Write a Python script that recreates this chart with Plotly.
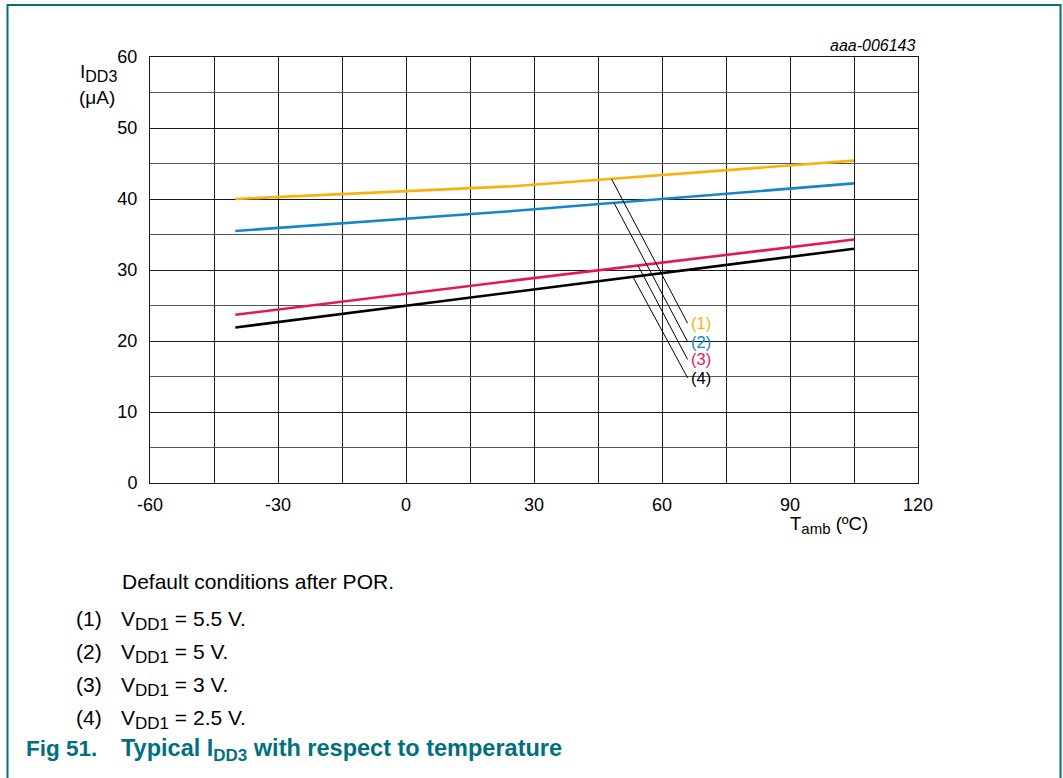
import plotly.graph_objects as go

# ---- data ----
temps = [-40, 25, 105]
idd_55v = [40.0, 41.8, 45.4]
idd_5v = [35.5, 38.3, 42.2]
idd_3v = [23.7, 28.5, 34.3]
idd_25v = [21.9, 26.9, 33.0]

series_names = ["(1)", "(2)", "(3)", "(4)"]
series_values = [idd_55v, idd_5v, idd_3v, idd_25v]
series_colors = ["#F9B10B", "#1387C9", "#E4175B", "#000000"]

# leader lines: (start x, start y, end x, end y) in data units
leaders = [
    (48.2, 42.8, 66.0, 22.5),
    (48.8, 39.4, 66.0, 19.9),
    (54.4, 30.6, 66.0, 17.4),
    (53.3, 28.9, 66.0, 14.8),
]

x_ticks = [-60, -30, 0, 30, 60, 90, 120]
x_tick_text = ["-60", "-30", "0", "30", "60", "90", "120"]
y_ticks = [0, 10, 20, 30, 40, 50, 60]

def sub(s, size=13):
    return f"<sub><span style=\"font-size:{size}px\">{s}</span></sub>"

notes = [
    ("(1)", "V" + sub("DD1", 17) + " = 5.5 V."),
    ("(2)", "V" + sub("DD1", 17) + " = 5 V."),
    ("(3)", "V" + sub("DD1", 17) + " = 3 V."),
    ("(4)", "V" + sub("DD1", 17) + " = 2.5 V."),
]

FONT = "Liberation Sans, Arial, sans-serif"
TEAL = "#00707F"

fig = go.Figure()
for name, vals, col in zip(series_names, series_values, series_colors):
    fig.add_trace(go.Scatter(x=temps, y=vals, mode="lines", name=name,
                             line=dict(color=col, width=2.6), showlegend=False))

W, H = 1063, 778
L, R, T, B = 150, 145, 57, 295
pw, ph = W - L - R, H - T - B

def px(xpix):
    return (xpix - L) / pw

def py(ypix):
    return (H - B - ypix) / ph

fig.update_layout(
    width=W, height=H,
    margin=dict(l=L, r=R, t=T, b=B),
    paper_bgcolor="white", plot_bgcolor="white",
    font=dict(family=FONT, size=16, color="#000"),
    xaxis=dict(range=[-60, 120], tickvals=x_ticks, ticktext=x_tick_text,
               showgrid=True, gridcolor="#1a1a1a",
               gridwidth=1, zeroline=False, showline=True, linecolor="#1a1a1a",
               mirror=True, ticks="", tickfont=dict(size=18), ticklabelstandoff=5,
               minor=dict(dtick=15, showgrid=True, gridcolor="#1a1a1a", gridwidth=1)),
    yaxis=dict(range=[0, 60], tickvals=y_ticks, showgrid=True, gridcolor="#1a1a1a",
               gridwidth=1, zeroline=False, showline=True, linecolor="#1a1a1a",
               mirror=True, ticks="", tickfont=dict(size=18), ticklabelstandoff=8,
               minor=dict(dtick=5, showgrid=True, gridcolor="#555555", gridwidth=1)),
)

shapes = []
for (x0, y0, x1, y1) in leaders:
    shapes.append(dict(type="line", xref="x", yref="y", x0=x0, y0=y0, x1=x1, y1=y1,
                       line=dict(color="#000", width=1)))
# teal frame
shapes.append(dict(type="path", xref="paper", yref="paper",
                   path=f"M {px(7.5)},{py(800)} L {px(7.5)},{py(5)} L {px(1060.5)},{py(5)} L {px(1060.5)},{py(800)}",
                   line=dict(color=TEAL, width=2)))
fig.update_layout(shapes=shapes)

ann = []
label_y = [22.5, 19.9, 17.4, 14.8]
for name, col, yv in zip(series_names, series_colors, label_y):
    ann.append(dict(x=66.3, y=yv, xref="x", yref="y", text=name, showarrow=False,
                    xanchor="left", yanchor="middle", font=dict(size=16.5, color=col)))

ann.append(dict(x=px(78), y=py(73), xref="paper", yref="paper", xanchor="left",
                yanchor="middle", showarrow=False, align="left",
                text="I" + sub("DD3", 16), font=dict(size=19)))
ann.append(dict(x=px(77), y=py(98), xref="paper", yref="paper", xanchor="left",
                yanchor="middle", showarrow=False, text="(μA)", font=dict(size=19)))
ann.append(dict(x=px(918), y=py(45), xref="paper", yref="paper", xanchor="right",
                yanchor="middle", showarrow=False, text="<i>aaa-006143</i>",
                font=dict(size=16)))
ann.append(dict(x=px(788), y=py(525), xref="paper", yref="paper", xanchor="left",
                yanchor="middle", showarrow=False, text="T" + sub("amb", 15) + " (ºC)",
                font=dict(size=18.5)))
ann.append(dict(x=px(120), y=py(581), xref="paper", yref="paper", xanchor="left",
                yanchor="middle", showarrow=False, text="Default conditions after POR.",
                font=dict(size=21)))
for i, (num, txt) in enumerate(notes):
    yy = 618 + i * 33.3
    ann.append(dict(x=px(74), y=py(yy), xref="paper", yref="paper", xanchor="left",
                    yanchor="middle", showarrow=False, text=num, font=dict(size=21)))
    ann.append(dict(x=px(119), y=py(yy + 2), xref="paper", yref="paper", xanchor="left",
                    yanchor="middle", showarrow=False, text=txt, font=dict(size=21)))
ann.append(dict(x=px(24), y=py(748), xref="paper", yref="paper", xanchor="left",
                yanchor="middle", showarrow=False, text="<b>Fig 51.</b>",
                font=dict(size=22.5, color=TEAL)))
ann.append(dict(x=px(119), y=py(750), xref="paper", yref="paper", xanchor="left",
                yanchor="middle", showarrow=False,
                text="<b>Typical I" + sub("DD3", 17) + " with respect to temperature</b>",
                font=dict(size=23.5, color=TEAL)))
fig.update_layout(annotations=ann)

fig.write_html("out.html", config={"displayModeBar": False},
               post_script="document.body.style.margin='0';document.body.style.padding='0';document.body.style.overflow='hidden';")
